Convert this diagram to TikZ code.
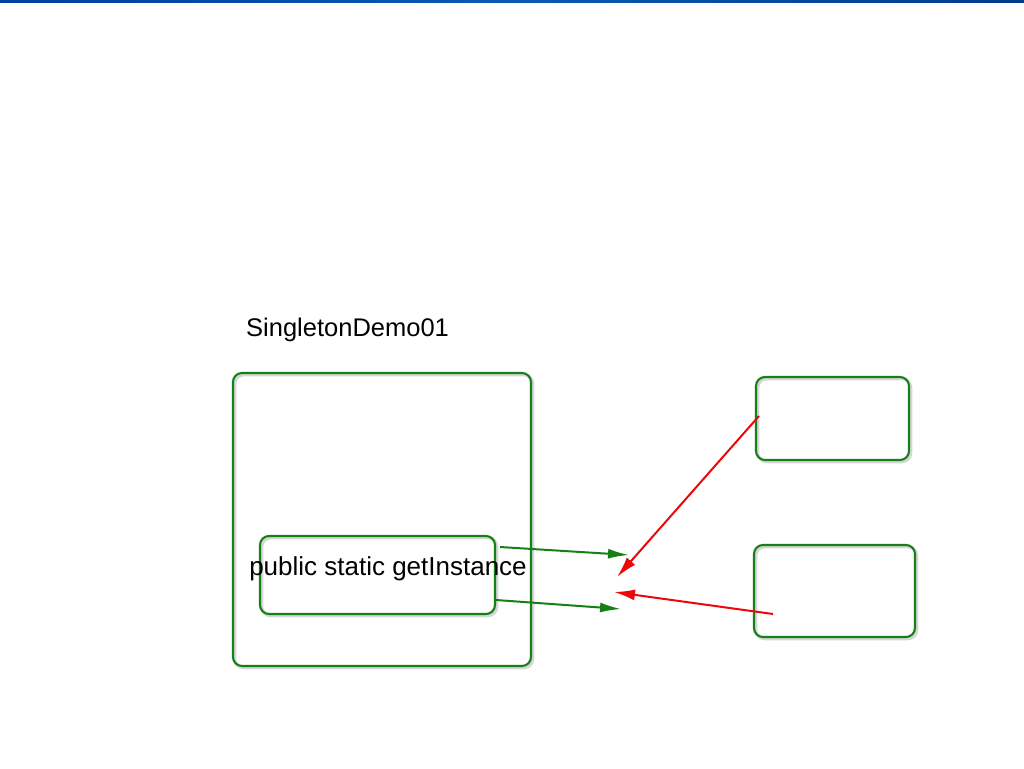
\documentclass[tikz,border=0pt]{standalone}
\usepackage{fontspec}
\setmainfont{Liberation Sans}
\usetikzlibrary{arrows.meta,shadows}
\definecolor{boxgreen}{RGB}{22,128,22}
\definecolor{arrred}{RGB}{236,8,8}
\definecolor{barL}{RGB}{0,62,160}
\definecolor{barM}{RGB}{10,90,180}
\definecolor{barR}{RGB}{0,60,140}
\tikzset{
  gbox/.style={draw=boxgreen, line width=2.1pt, rounded corners=9pt, anchor=north west,
    inner sep=0pt, outer sep=0pt,
    drop shadow={shadow xshift=1.8pt, shadow yshift=-1.8pt, fill=none, draw=black, opacity=0.16, line width=3pt}},
  garrow/.style={draw=boxgreen, line width=2pt, -{Latex[length=21pt,width=10pt]}},
  rarrow/.style={draw=arrred, line width=2pt, -{Latex[length=21pt,width=11pt]}},
  lbl/.style={font=\fontsize{25.5}{31}\selectfont, text=black, inner sep=0pt}
}
\begin{document}
\begin{tikzpicture}[x=1pt,y=-1pt]
\useasboundingbox (0,0) rectangle (1024,768);
\fill[white] (0,0) rectangle (1024,768);
\shade[left color=barL, right color=barR, middle color=barM] (0,0) rectangle (1024,3);
% title
\node[lbl, anchor=base west] (title) at (246,336) {SingletonDemo01};
% boxes
\node[gbox, minimum width=298pt, minimum height=293pt] (outer) at (233,373) {};
\node[gbox, minimum width=235pt, minimum height=78pt] (inner) at (260,536) {};
\node[lbl, anchor=base, font=\fontsize{26}{31}\selectfont] (method) at (388,575) {public static getInstance};
\node[gbox, minimum width=153pt, minimum height=83pt] (rtop) at (756,377) {};
\node[gbox, minimum width=161pt, minimum height=92pt] (rbot) at (754,545) {};
% arrow ends
\coordinate (g1s) at (500,547);
\coordinate (g1e) at (629,555);
\coordinate (g2s) at (496,600);
\coordinate (g2e) at (621,609);
\coordinate (r1s) at (759,416);
\coordinate (r1e) at (617,577);
\coordinate (r2s) at (773,614);
\coordinate (r2e) at (614,592);
\draw[garrow] (g1s) -- (g1e);
\draw[garrow] (g2s) -- (g2e);
\draw[rarrow] (r1s) -- (r1e);
\draw[rarrow] (r2s) -- (r2e);
\end{tikzpicture}
\end{document}
